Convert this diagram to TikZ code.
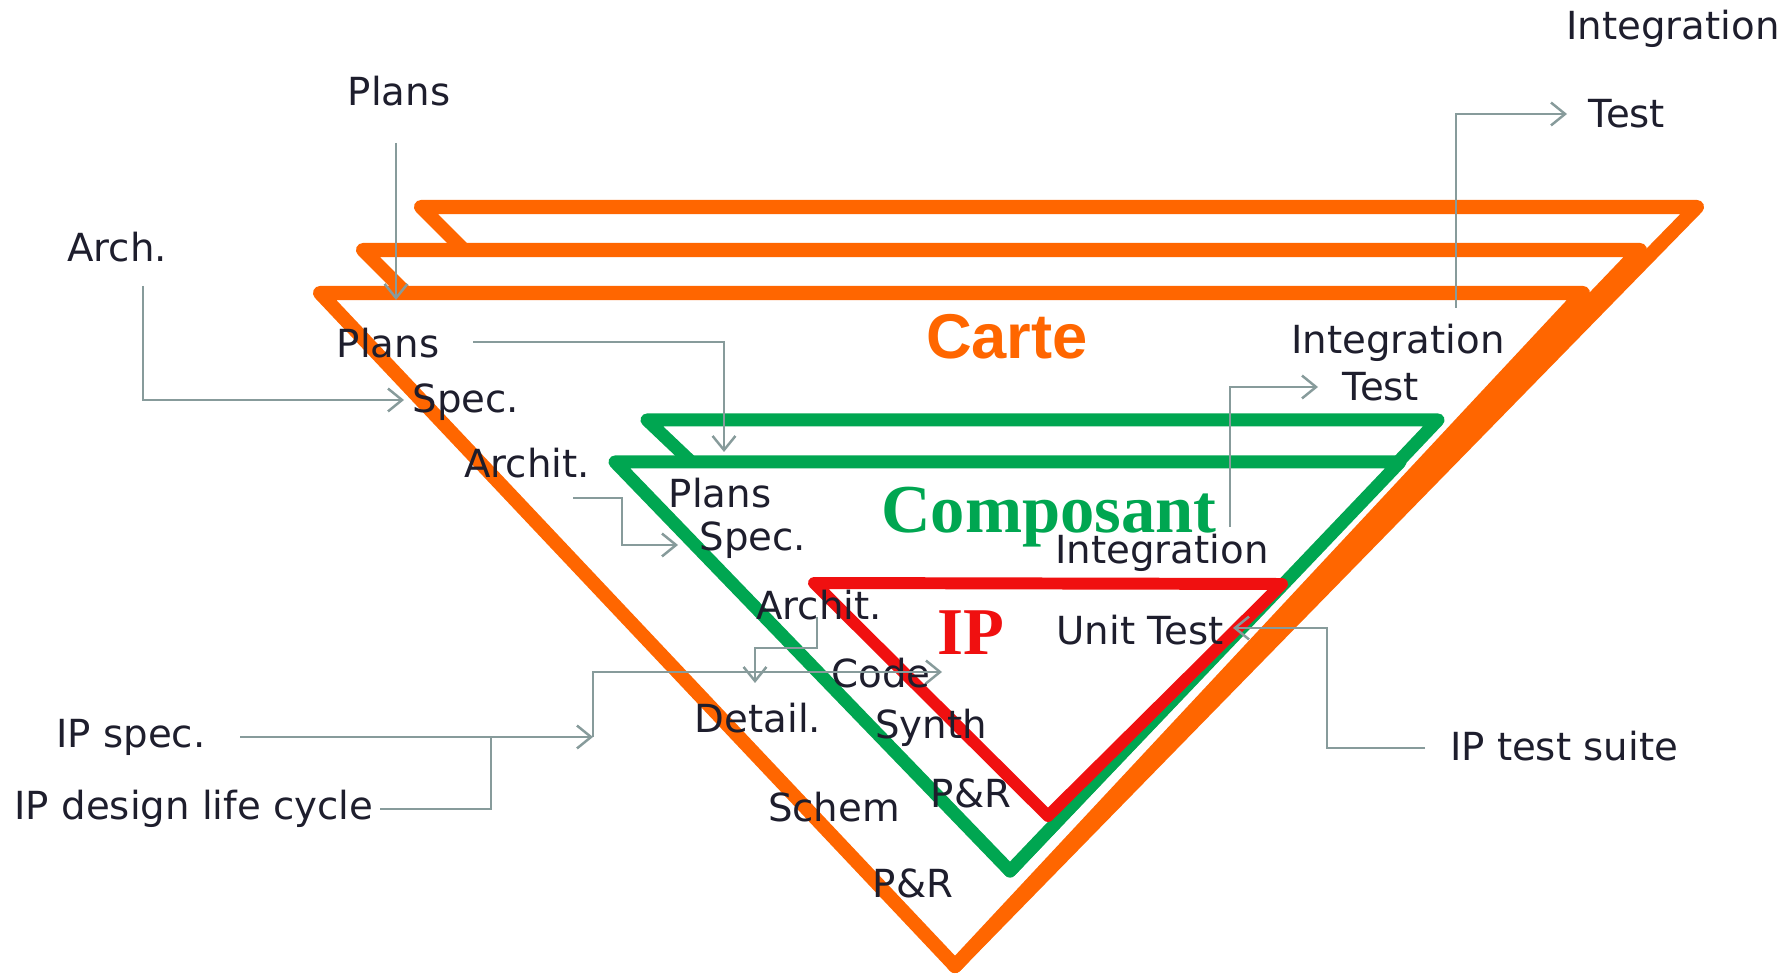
\documentclass[tikz,border=0pt]{standalone}
\usepackage{fontspec}
\setmainfont{DejaVu Sans}
\newfontfamily\cartefont{Liberation Sans}
\newfontfamily\levelfont{Liberation Serif}
\usetikzlibrary{arrows.meta,positioning}

\definecolor{cartecol}{RGB}{255,102,0}
\definecolor{compcol}{RGB}{0,166,81}
\definecolor{ipcol}{RGB}{240,16,16}
\definecolor{linkcol}{RGB}{135,155,155}
\definecolor{textcol}{RGB}{30,30,45}

\begin{document}
\begin{tikzpicture}[x=0.01cm, y=-0.01cm, >={Straight Barb[length=4pt,width=6.5pt]},
    level/.style={draw=#1, fill=white, line width=3.7pt, line join=round},
    lbl/.style={text=textcol, font=\fontsize{11}{13}\selectfont, inner sep=0pt},
    link/.style={draw=linkcol, line width=0.7pt, ->},
    wire/.style={draw=linkcol, line width=0.7pt}]
    \useasboundingbox (0,0) rectangle (1791,977);

    % Carte levels
    \path[level=cartecol, line width=4pt] (421,207) -- (1697,207) -- (955,966) -- (571,357) -- cycle;
    \path[level=cartecol, line width=4pt] (363,250) -- (1640,250) -- (955,966) -- (493,380) -- cycle;
    \path[level=cartecol, line width=4pt] (320,293) -- (1583,293) -- (955,966) -- cycle;

    % Composant levels
    \path[level=compcol] (647,420) -- (1438,420) -- (1010,871) -- (745,513) -- cycle;
    \path[level=compcol] (615,462) -- (1400,462) -- (1010,871) -- cycle;

    % IP level
    \path[level=ipcol, line width=3.4pt] (814,583) -- (1282,584) -- (1048,816) -- cycle;

    % Titles
    \node[text=cartecol, font=\cartefont\bfseries\fontsize{18}{20}\selectfont] (carte) at (1007,337) {Carte};
    \node[text=compcol, font=\levelfont\bfseries\fontsize{19.5}{22}\selectfont] (composant) at (1049,517) {Composant};
    \node[text=ipcol, font=\levelfont\bfseries\fontsize{19}{22}\selectfont] (ip) at (971,633) {IP};

    % Outside labels
    \node[lbl] (intTop) at (1673,29) {Integration};
    \node[lbl] (testTop) at (1627,114) {Test};
    \node[lbl] (plansTop) at (399,91) {Plans};
    \node[lbl] (arch) at (117,247) {Arch.};
    \node[lbl] (ipSpec) at (131,737) {IP spec.};
    \node[lbl] (ipCycle) at (194,809) {IP design life cycle};
    \node[lbl] (ipSuite) at (1564,746) {IP test suite};

    % Carte steps
    \node[lbl] (plansC) at (388,343) {Plans};
    \node[lbl] (specC) at (466,402) {Spec.};
    \node[lbl] (architC) at (527,463) {Archit.};
    \node[lbl] (detailC) at (758,718) {Detail.};
    \node[lbl] (schemC) at (834,807) {Schem};
    \node[lbl] (prC) at (913,883) {P\&R};
    \node[lbl] (intC) at (1398,343) {Integration};
    \node[lbl] (testC) at (1381,387) {Test};

    % Composant steps
    \node[lbl] (plansG) at (720,493) {Plans};
    \node[lbl] (specG) at (753,540) {Spec.};
    \node[lbl] (architG) at (819,605) {Archit.};
    \node[lbl] (synthG) at (931,728) {Synth};
    \node[lbl] (prG) at (971,793) {P\&R};
    \node[lbl] (intG) at (1162,553) {Integration};

    % IP steps
    \node[lbl] (codeI) at (881,673) {Code};
    \node[lbl] (unitI) at (1140,630) {Unit Test};

    % Connector ends
    \coordinate (iT0) at (1456,308);
    \coordinate (iT1) at (1567,114);
    \coordinate (pl0) at (396,143);
    \coordinate (pl1) at (396,300);
    \coordinate (ar0) at (143,286);
    \coordinate (ar1) at (404,400);
    \coordinate (pa0) at (473,342);
    \coordinate (pa1) at (724,452);
    \coordinate (ac0) at (573,498);
    \coordinate (ac1) at (678,545);
    \coordinate (it0) at (1230,527);
    \coordinate (it1) at (1318,387);
    \coordinate (ips0) at (240,737);
    \coordinate (ips1) at (593,737);
    \coordinate (cd1) at (942,672);
    \coordinate (lc0) at (380,809);
    \coordinate (lc1) at (491,737);
    \coordinate (ag0) at (817,617);
    \coordinate (ag1) at (755,683);
    \coordinate (ts0) at (1425,748);
    \coordinate (ts1) at (1233,628);

    % Connectors
    \draw[link] (iT0) |- (iT1);
    \draw[link] (pl0) -- (pl1);
    \draw[link] (ar0) |- (ar1);
    \draw[link] (pa0) -| (pa1);
    \draw[link] (ac0) -- ++(49,0) |- (ac1);
    \draw[link] (it0) |- (it1);
    \draw[link] (ips0) -- (ips1);
    \draw[link] (ips1) |- (cd1);
    \draw[wire] (lc0) -| (lc1);
    \draw[link] (ag0) -- ++(0,31) -| (ag1);
    \draw[link] (ts0) -- ++(-98,0) |- (ts1);
\end{tikzpicture}
\end{document}
